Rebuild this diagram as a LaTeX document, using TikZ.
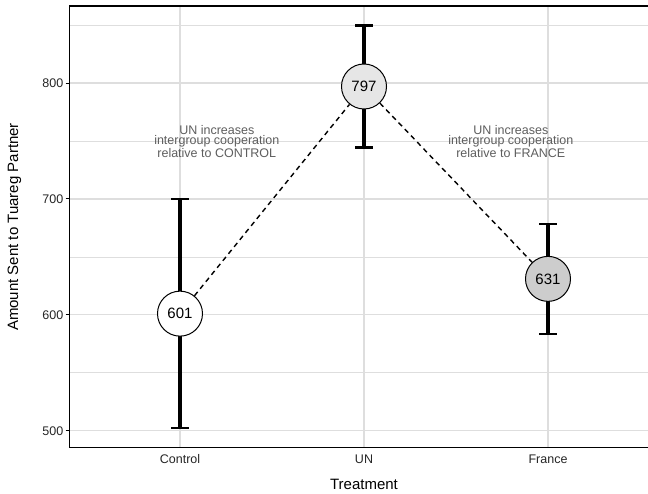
\documentclass[tikz,border=0pt]{standalone}
\usepackage{fontspec}
\setmainfont{Liberation Sans}
\definecolor{gridcol}{HTML}{DEDEDE}
\definecolor{uncol}{HTML}{E6E6E6}
\definecolor{frcol}{HTML}{CDCDCD}
\definecolor{tickcol}{HTML}{262626}
\definecolor{notecol}{HTML}{5E5E5E}
\begin{document}
\begin{tikzpicture}[x=1pt,y=-1pt,
  majorgrid/.style={draw=gridcol,line width=1.3pt},
  minorgrid/.style={draw=gridcol,line width=0.7pt},
  axisline/.style={draw=black,line width=1.3pt},
  ticklab/.style={text=tickcol,font=\fontsize{12.5}{14}\selectfont,inner sep=0pt},
  titlelab/.style={text=black,font=\fontsize{15}{17}\selectfont,inner sep=0pt},
  errbar/.style={draw=black,line width=3.2pt},
  errcap/.style={draw=black,line width=2.4pt},
  pointnode/.style={circle,draw=black,line width=1pt,minimum size=45pt,inner sep=0pt,font=\fontsize{15}{17}\selectfont},
  link/.style={draw=black,line width=1.4pt,dash pattern=on 5pt off 4pt},
  note/.style={text=notecol,align=center,font=\fontsize{12.5}{10.6}\selectfont,inner sep=0pt}]
\path[use as bounding box] (0,0) rectangle (648,493);
\fill[white] (0,0) rectangle (648,493);
% grid
\foreach \yy in {25.05,140.95,256.85,372.75} \draw[minorgrid] (69.5,\yy) -- (648,\yy);
\foreach \yy in {83,198.9,314.8,430.7} \draw[majorgrid] (69.5,\yy) -- (648,\yy);
\foreach \xx in {180,364,548} \draw[majorgrid] (\xx,6) -- (\xx,447.7);
% axes
\draw[axisline] (648,6) -- (69.5,6) -- (69.5,447.7) -- (648,447.7);
\foreach \yy/\lab in {83/800,198.9/700,314.8/600,430.7/500} {
  \draw[black,line width=1pt] (65.5,\yy) -- (69.5,\yy);
  \node[ticklab,anchor=east] (yt\lab) at (63.5,\yy) {\lab};
}
\node[ticklab] (xt1) at (180,459.3) {Control};
\node[ticklab] (xt2) at (364,459.3) {UN};
\node[ticklab] (xt3) at (548,459.3) {France};
\node[titlelab] (xtitle) at (364,484.3) {Treatment};
\node[titlelab,rotate=90] (ytitle) at (14.5,227) {Amount Sent to Tuareg Partner};
% error bars
\coordinate (e1t) at (180,198.9); \coordinate (e1b) at (180,427.8);
\coordinate (e2t) at (364,25.6); \coordinate (e2b) at (364,147.3);
\coordinate (e3t) at (548,223.8); \coordinate (e3b) at (548,334.1);
\foreach \e in {1,2,3} {
  \draw[errbar] (e\e t) -- (e\e b);
  \draw[errcap] ([xshift=-9pt]e\e t) -- ([xshift=9pt]e\e t);
  \draw[errcap] ([xshift=-9pt]e\e b) -- ([xshift=9pt]e\e b);
}
% points
\node[pointnode,fill=white] (p1) at (180,313.64) {601};
\node[pointnode,fill=uncol] (p2) at (364,86.48) {797};
\node[pointnode,fill=frcol] (p3) at (548,278.87) {631};
\draw[link] (p1) -- (p2);
\draw[link] (p2) -- (p3);
% annotations
\node[note] (n1) at (216.8,141.2) {UN increases\\intergroup cooperation\\relative to CONTROL};
\node[note] (n2) at (510.8,141.2) {UN increases\\intergroup cooperation\\relative to FRANCE};
\end{tikzpicture}
\end{document}
